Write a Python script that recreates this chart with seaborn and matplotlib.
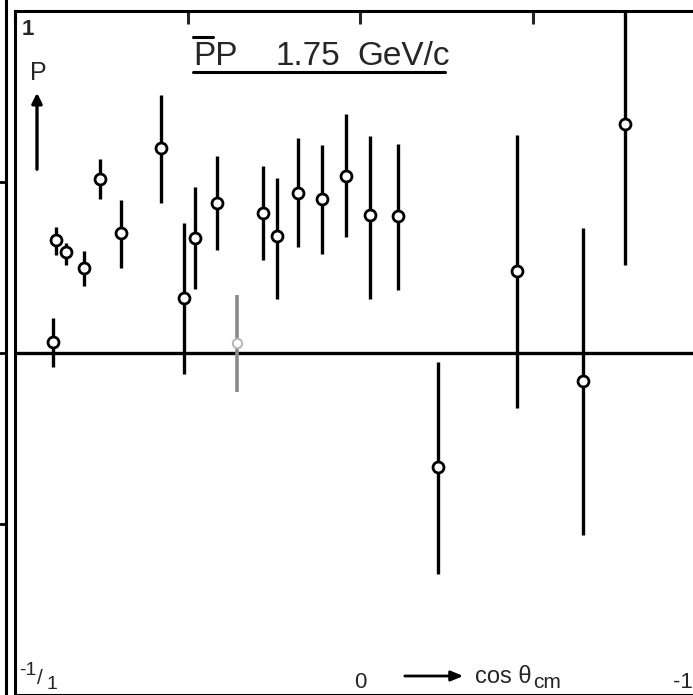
import numpy as np
import pandas as pd
import matplotlib
matplotlib.use("Agg")
import matplotlib.pyplot as plt
import seaborn as sns

# ---- data ----
cos_theta = [0.890, 0.881, 0.852, 0.800, 0.754, 0.693, 0.577, 0.510, 0.478, 0.414,
             0.357, 0.281, 0.241, 0.180, 0.110, 0.041, -0.029, -0.110, -0.226,
             -0.455, -0.646, -0.768]
polarization = [0.032, 0.330, 0.295, 0.249, 0.509, 0.351, 0.599, 0.161, 0.336, 0.439,
                0.029, 0.409, 0.342, 0.468, 0.450, 0.518, 0.404, 0.401, -0.333,
                0.240, -0.082, 0.670]
p_low = [-0.041, 0.287, 0.257, 0.196, 0.450, 0.249, 0.439, -0.061, 0.187, 0.301,
         -0.114, 0.272, 0.158, 0.310, 0.289, 0.339, 0.158, 0.184, -0.646,
         -0.161, -0.532, 0.257]
p_high = [0.102, 0.368, 0.322, 0.298, 0.567, 0.447, 0.754, 0.380, 0.485, 0.576,
          0.170, 0.547, 0.512, 0.629, 0.608, 0.699, 0.635, 0.611, -0.026,
          0.637, 0.365, 0.997]
faded = [False] * 10 + [True] + [False] * 11

x_ticks = [1.0, 0.5, 0.0, -0.5, -1.0]
y_ticks = [1.0, 0.5, 0.0, -0.5, -1.0]

df = pd.DataFrame({"cos": cos_theta, "P": polarization, "lo": p_low,
                   "hi": p_high, "faded": faded})

sns.set_style("white")
plt.rcParams["font.family"] = ["Liberation Sans", "DejaVu Sans"]

W, H = 693, 695
fig = plt.figure(figsize=(W / 100, H / 100), dpi=100)
# axes frame: left px 15, right px 705 (cut off), top px 11, bottom px 695
ax = fig.add_axes([15 / W, 1 - 695 / H, 690 / W, 684 / H])
ax.set_xlim(1, -1)
ax.set_ylim(-1, 1)

for s in ax.spines.values():
    s.set_linewidth(2.2)
    s.set_color("black")

ax.set_xticks(x_ticks)
ax.set_yticks(y_ticks)
ax.tick_params(direction="in", length=9, width=2.2, top=True, right=True,
               labelbottom=False, labelleft=False)

# zero line
ax.axhline(0, color="black", lw=2.4, zorder=1)

# error bars
solid = df[~df["faded"]]
fd = df[df["faded"]]
ax.vlines(solid["cos"], solid["lo"], solid["hi"], color="black", lw=2.4, zorder=2)
ax.vlines(fd["cos"], fd["lo"], fd["hi"], color="#8a8a8a", lw=2.6, zorder=2)

sns.scatterplot(data=solid, x="cos", y="P", ax=ax, s=62, marker="o",
                facecolor="white", edgecolor="black", linewidth=2.0, zorder=3,
                legend=False)
sns.scatterplot(data=fd, x="cos", y="P", ax=ax, s=45, marker="o",
                facecolor="white", edgecolor="#b8b8b8", linewidth=1.5, zorder=3,
                legend=False)
ax.set_xlabel("")
ax.set_ylabel("")

# ---- text annotations (pixel-positioned decorations) ----
def px(x, y):
    return x / W, 1 - y / H

ft = fig.transFigure
fig.text(*px(22, 35), "1", transform=ft, fontsize=16, ha="left", va="baseline",
         fontweight="bold")
fig.text(*px(38, 80), "P", transform=ft, fontsize=18, ha="center", va="baseline")
fig.add_artist(matplotlib.patches.FancyArrowPatch(
    px(37, 172), px(37, 90), transform=ft,
    arrowstyle="-|>,head_length=0.5,head_width=0.25",
    lw=2.4, color="black", mutation_scale=12))

# title
fig.text(*px(193, 65), "PP", transform=ft, fontsize=24, ha="left", va="baseline")
fig.text(*px(276, 65), "1.75", transform=ft, fontsize=24, ha="left", va="baseline")
fig.text(*px(357, 65), "GeV/c", transform=ft, fontsize=24, ha="left", va="baseline")
fig.add_artist(plt.Line2D([193 / W, 213 / W], [1 - 37 / H, 1 - 37 / H],
                          transform=ft, color="black", lw=2.2))
fig.add_artist(plt.Line2D([193 / W, 445 / W], [1 - 72 / H, 1 - 72 / H],
                          transform=ft, color="black", lw=2.2))

# bottom-left "-1/1"
fig.text(*px(19, 675), "-1", transform=ft, fontsize=14, ha="left", va="baseline")
fig.text(*px(37, 684), "/", transform=ft, fontsize=15, ha="left", va="baseline")
fig.text(*px(46, 689), "1", transform=ft, fontsize=14, ha="left", va="baseline")

# x labels
fig.text(*px(360, 688), "0", transform=ft, fontsize=16, ha="center", va="baseline")
fig.add_artist(matplotlib.patches.FancyArrowPatch(
    px(402, 676), px(466, 676), transform=ft,
    arrowstyle="-|>,head_length=0.6,head_width=0.25", lw=2.0, color="black",
    mutation_scale=12))
fig.text(*px(475, 683), "cos θ", transform=ft, fontsize=17,
         ha="left", va="baseline")
fig.text(*px(533, 688), "cm", transform=ft, fontsize=15,
         ha="left", va="baseline")
fig.text(*px(673, 688), "-1", transform=ft, fontsize=16, ha="left", va="baseline")

# outer scan border line on the left
fig.add_artist(plt.Line2D([6 / W, 6 / W], [0, 1], transform=ft, color="black", lw=2.2))
for yy in (182, 353, 524):
    fig.add_artist(plt.Line2D([0, 6 / W], [1 - yy / H, 1 - yy / H], transform=ft,
                              color="black", lw=2.0))

fig.savefig("out.png", dpi=100)
